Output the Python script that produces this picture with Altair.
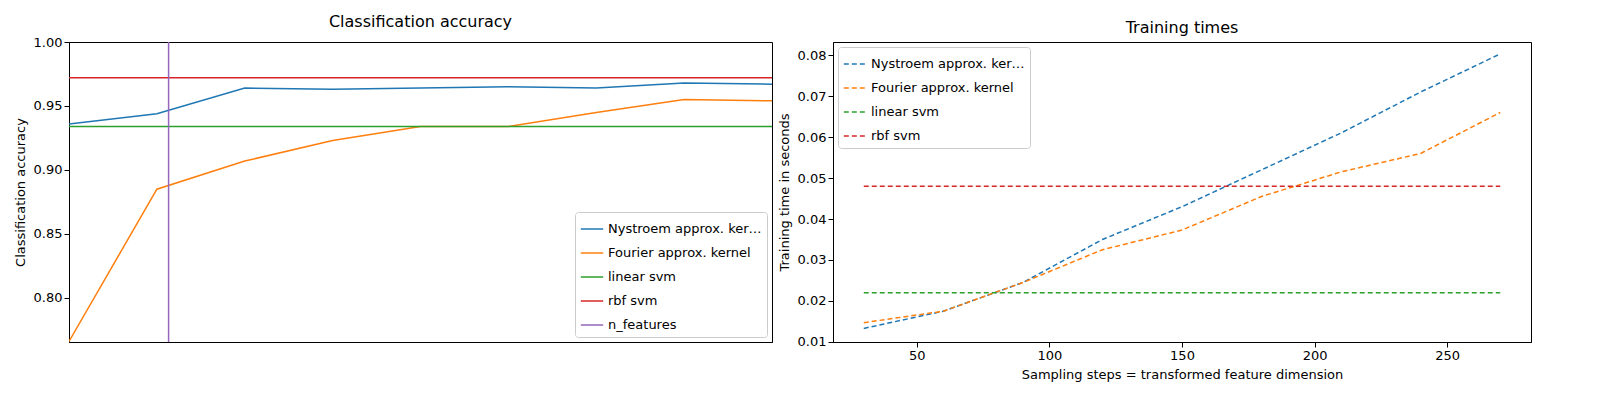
import altair as alt
import pandas as pd

steps = [30, 60, 90, 120, 150, 180, 210, 240, 270]
nys_acc = [0.936, 0.944, 0.964, 0.963, 0.964, 0.965, 0.964, 0.968, 0.967]
four_acc = [0.766, 0.885, 0.907, 0.923, 0.934, 0.934, 0.945, 0.955, 0.954]
linear_acc = 0.934
rbf_acc = 0.972
n_features = 64
nys_time = [0.0133, 0.0175, 0.0245, 0.035, 0.043, 0.052, 0.061, 0.071, 0.0803]
four_time = [0.0147, 0.0175, 0.0245, 0.0325, 0.0373, 0.0455, 0.0515, 0.056, 0.066]
linear_time = 0.022
rbf_time = 0.048

names = ["Nystroem approx. kernel", "Fourier approx. kernel", "linear svm", "rbf svm", "n_features"]
colors = ["#1f77b4", "#ff7f0e", "#2ca02c", "#d62728", "#9467bd"]

rows_a, rows_t = [], []
for i, s in enumerate(steps):
    rows_a += [dict(x=s, y=nys_acc[i], s=names[0], o=i), dict(x=s, y=four_acc[i], s=names[1], o=i)]
    rows_t += [dict(x=s, y=nys_time[i], s=names[0], o=i), dict(x=s, y=four_time[i], s=names[1], o=i)]
for j, s in enumerate([steps[0], steps[-1]]):
    rows_a += [dict(x=s, y=linear_acc, s=names[2], o=j), dict(x=s, y=rbf_acc, s=names[3], o=j)]
    rows_t += [dict(x=s, y=linear_time, s=names[2], o=j), dict(x=s, y=rbf_time, s=names[3], o=j)]
rows_a += [dict(x=n_features, y=0.7, s=names[4], o=0), dict(x=n_features, y=1.05, s=names[4], o=1)]
da, dt = pd.DataFrame(rows_a), pd.DataFrame(rows_t)

leg = dict(title=None, labelFontSize=13, symbolType="stroke", symbolSize=500, symbolStrokeWidth=1.5,
           strokeColor="#cccccc", fillColor="white", padding=5, cornerRadius=3, rowPadding=5, offset=5)

left = alt.Chart(da).mark_line(clip=True, strokeWidth=1.5).encode(
    x=alt.X("x:Q", scale=alt.Scale(domain=[30, 270], nice=False),
            axis=alt.Axis(labels=False, ticks=False, title=None, grid=False)),
    y=alt.Y("y:Q", scale=alt.Scale(domain=[0.7656, 1.0], nice=False, zero=False),
            axis=alt.Axis(title="Classification accuracy", grid=False, values=[0.8, 0.85, 0.9, 0.95, 1.0], format=".2f")),
    color=alt.Color("s:N", scale=alt.Scale(domain=names, range=colors), sort=names,
                    legend=alt.Legend(orient="bottom-right", **leg)),
    order="o:Q", detail="s:N",
).properties(width=703, height=300, title="Classification accuracy")

right = alt.Chart(dt).mark_line(strokeDash=[5, 3], strokeWidth=1.5).encode(
    x=alt.X("x:Q", scale=alt.Scale(domain=[18.4, 281.6], nice=False),
            axis=alt.Axis(title="Sampling steps = transformed feature dimension", grid=False, values=[50, 100, 150, 200, 250])),
    y=alt.Y("y:Q", scale=alt.Scale(domain=[0.00998, 0.0832], nice=False, zero=False),
            axis=alt.Axis(title="Training time in seconds", grid=False, values=[0.01, 0.02, 0.03, 0.04, 0.05, 0.06, 0.07, 0.08], format=".2f")),
    color=alt.Color("s:N", scale=alt.Scale(domain=names[:4], range=colors[:4]), sort=names[:4],
                    legend=alt.Legend(orient="top-left", symbolDash=[5, 3], **leg)),
    order="o:Q", detail="s:N",
).properties(width=698, height=300, title="Training times")

chart = alt.hconcat(left, right, spacing=4).resolve_scale(color="independent").configure(
    font="DejaVu Sans"
).configure_axis(
    labelFontSize=13, titleFontSize=13, titleFontWeight="normal", domainColor="black", tickColor="black",
    labelColor="black", titleColor="black", titlePadding=6
).configure_title(fontSize=16, fontWeight="normal", offset=6).configure_view(stroke="black")

chart.save("out.html", embed_options={"renderer": "svg", "actions": False})
